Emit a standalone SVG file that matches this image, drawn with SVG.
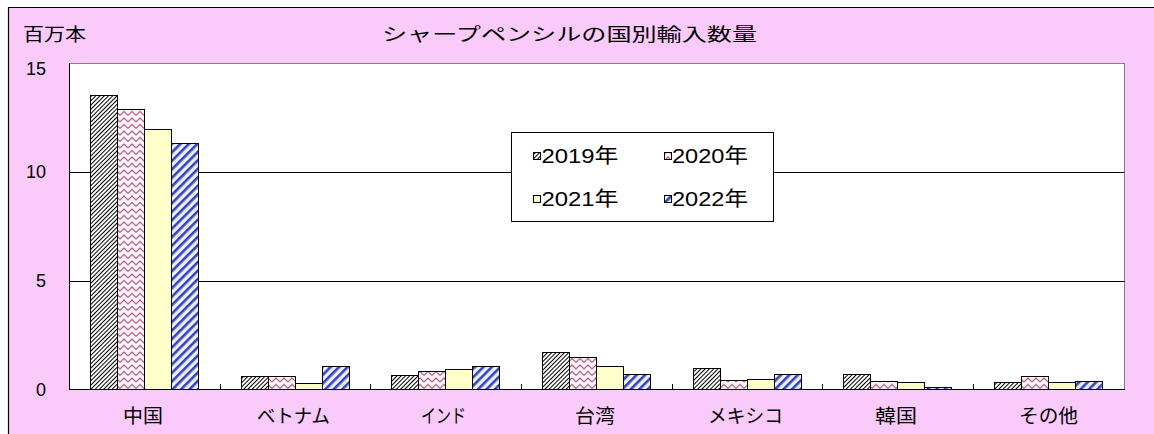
<svg xmlns="http://www.w3.org/2000/svg" width="1154" height="434" viewBox="0 0 1154 434">
<style>
text{font-family:"Liberation Sans","Noto Sans CJK JP",sans-serif;fill:#000}
.ax{font-size:18px;text-anchor:end}
.cat{font-size:19px}
.lg{font-size:20px}
.bar{stroke:#000;stroke-width:1}
.s19{fill:url(#p19)}
.s20{fill:url(#p20)}
.s21{fill:#FFFFCC}
.s22{fill:url(#p22)}
.grid{stroke:#000;stroke-width:1;fill:none}
</style>
<defs>
<pattern id="p19" patternUnits="userSpaceOnUse" width="3" height="3" patternTransform="rotate(45)">
<rect width="3" height="3" fill="#fff"/><rect width="1" height="3" fill="#000"/>
</pattern>
<pattern id="p20" patternUnits="userSpaceOnUse" width="8" height="6.5">
<rect width="8" height="6.5" fill="#FFF4FA"/><path d="M0,5 L4,1 L8,5" stroke="#9C4A6E" stroke-width="1" fill="none"/>
</pattern>
<pattern id="p22" patternUnits="userSpaceOnUse" width="6" height="6" patternTransform="rotate(45)">
<rect width="6" height="6" fill="#EEF0FF"/><rect width="2.6" height="6" fill="#3342C0"/>
</pattern>
</defs>
<rect x="0" y="0" width="1154" height="434" fill="#fff"/>
<rect x="8" y="7" width="1146" height="427" fill="#FACAFA"/>
<path d="M8.5,434 V7.5 H1154" stroke="#000" stroke-width="1.2" fill="none"/>
<text x="23" y="41" font-size="18" textLength="63" lengthAdjust="spacingAndGlyphs">百万本</text>
<text x="382" y="41" font-size="18" textLength="375" lengthAdjust="spacingAndGlyphs">シャープペンシルの国別輸入数量</text>
<g id="plot">
<rect x="69.5" y="63.5" width="1055" height="326" fill="#fff" stroke="#808080" stroke-width="1"/>
</g>
<g id="axes">
<line class="grid" x1="69.5" y1="172.5" x2="1124.5" y2="172.5"/>
<line class="grid" x1="69.5" y1="281.5" x2="1124.5" y2="281.5"/>
<line class="grid" x1="69.5" y1="63" x2="69.5" y2="390"/>
<line class="grid" x1="69" y1="389.5" x2="1125" y2="389.5"/>
<path class="grid" d="M220.5,384V389 M370.5,384V389 M521.5,384V389 M672.5,384V389 M822.5,384V389 M973.5,384V389"/>
<text class="ax" x="46" y="75">15</text>
<text class="ax" x="46" y="178">10</text>
<text class="ax" x="46" y="287">5</text>
<text class="ax" x="46" y="396">0</text>
</g>
<g id="china">
<rect class="bar s19" x="90.5" y="95.5" width="27" height="294"/>
<rect class="bar s20" x="117.5" y="109.5" width="27" height="280"/>
<rect class="bar s21" x="144.5" y="129.5" width="27" height="260"/>
<rect class="bar s22" x="171.5" y="143.5" width="27" height="246"/>
<text class="cat" x="123" y="423" textLength="40" lengthAdjust="spacingAndGlyphs">中国</text>
</g>
<g id="vietnam">
<rect class="bar s19" x="241.5" y="376.5" width="27" height="13"/>
<rect class="bar s20" x="268.5" y="376.5" width="27" height="13"/>
<rect class="bar s21" x="295.5" y="383.5" width="27" height="6"/>
<rect class="bar s22" x="322.5" y="366.5" width="27" height="23"/>
<text class="cat" x="257" y="423" textLength="73" lengthAdjust="spacingAndGlyphs">ベトナム</text>
</g>
<g id="india">
<rect class="bar s19" x="391.5" y="375.5" width="27" height="14"/>
<rect class="bar s20" x="418.5" y="371.5" width="27" height="18"/>
<rect class="bar s21" x="445.5" y="369.5" width="27" height="20"/>
<rect class="bar s22" x="472.5" y="366.5" width="27" height="23"/>
<text class="cat" x="421" y="423" textLength="45" lengthAdjust="spacingAndGlyphs">インド</text>
</g>
<g id="taiwan">
<rect class="bar s19" x="542.5" y="352.5" width="27" height="37"/>
<rect class="bar s20" x="569.5" y="357.5" width="27" height="32"/>
<rect class="bar s21" x="596.5" y="366.5" width="27" height="23"/>
<rect class="bar s22" x="623.5" y="374.5" width="27" height="15"/>
<text class="cat" x="575" y="423" textLength="40" lengthAdjust="spacingAndGlyphs">台湾</text>
</g>
<g id="mexico">
<rect class="bar s19" x="693.5" y="368.5" width="27" height="21"/>
<rect class="bar s20" x="720.5" y="380.5" width="27" height="9"/>
<rect class="bar s21" x="747.5" y="379.5" width="27" height="10"/>
<rect class="bar s22" x="774.5" y="374.5" width="27" height="15"/>
<text class="cat" x="708" y="423" textLength="75" lengthAdjust="spacingAndGlyphs">メキシコ</text>
</g>
<g id="korea">
<rect class="bar s19" x="843.5" y="374.5" width="27" height="15"/>
<rect class="bar s20" x="870.5" y="381.5" width="27" height="8"/>
<rect class="bar s21" x="897.5" y="382.5" width="27" height="7"/>
<rect class="bar s22" x="924.5" y="387.5" width="27" height="2"/>
<text class="cat" x="875" y="423" textLength="42" lengthAdjust="spacingAndGlyphs">韓国</text>
</g>
<g id="others">
<rect class="bar s19" x="994.5" y="382.5" width="27" height="7"/>
<rect class="bar s20" x="1021.5" y="376.5" width="27" height="13"/>
<rect class="bar s21" x="1048.5" y="382.5" width="27" height="7"/>
<rect class="bar s22" x="1075.5" y="381.5" width="27" height="8"/>
<text class="cat" x="1019" y="423" textLength="59" lengthAdjust="spacingAndGlyphs">その他</text>
</g>
<g id="legend">
<rect x="511.5" y="132.5" width="262" height="89" fill="#fff" stroke="#000" stroke-width="1"/>
<rect class="bar s19" x="533.5" y="152.5" width="7" height="7"/>
<text class="lg" x="541.5" y="163" textLength="77" lengthAdjust="spacingAndGlyphs">2019年</text>
<rect class="bar s20" x="664.5" y="152.5" width="7" height="7"/>
<text class="lg" x="672" y="163" textLength="76" lengthAdjust="spacingAndGlyphs">2020年</text>
<rect class="bar s21" x="533.5" y="195.5" width="7" height="7"/>
<text class="lg" x="541.5" y="206" textLength="77" lengthAdjust="spacingAndGlyphs">2021年</text>
<rect class="bar s22" x="664.5" y="195.5" width="7" height="7"/>
<text class="lg" x="672" y="206" textLength="76" lengthAdjust="spacingAndGlyphs">2022年</text>
</g>
</svg>
